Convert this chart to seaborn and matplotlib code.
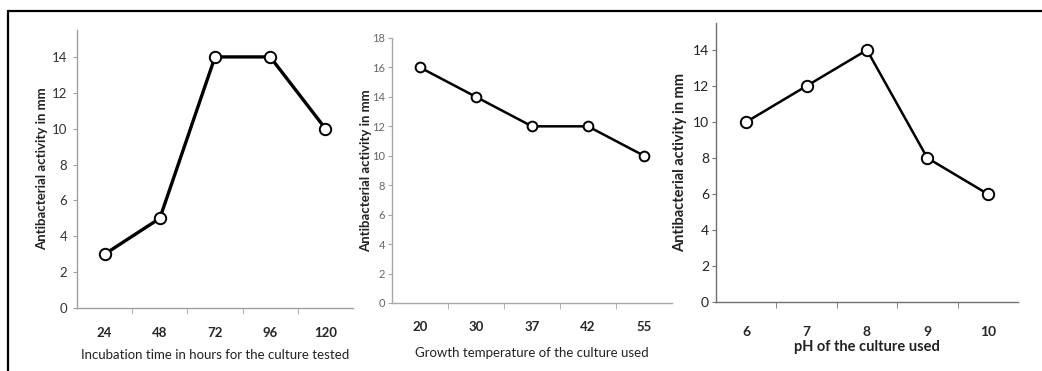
import numpy as np
import pandas as pd
import matplotlib
matplotlib.use('Agg')
import matplotlib.pyplot as plt
from matplotlib.lines import Line2D
from matplotlib.ticker import FixedLocator
import seaborn as sns

# Data
time_labels = ['24', '48', '72', '96', '120']
time_activity = [3, 5, 14, 14, 10]

temp_labels = ['20', '30', '37', '42', '55']
temp_activity = [16, 14, 12, 12, 10]

ph_labels = ['6', '7', '8', '9', '10']
ph_activity = [10, 12, 14, 8, 6]

sns.set_style('white')
plt.rcParams['font.family'] = ['Lato', 'DejaVu Sans']

fig = plt.figure(figsize=(10.42, 3.71), dpi=100)

# panel rectangles [left, bottom, width, height] in figure fractions
ax1 = fig.add_axes([0.0739, 0.1698, 0.2649, 0.7493])
ax2 = fig.add_axes([0.3762, 0.1833, 0.2687, 0.7143])
ax3 = fig.add_axes([0.6871, 0.1860, 0.2898, 0.7520])

panels = [
    (ax1, time_labels, time_activity, 'Incubation time in hours for the culture tested', 15.5, 8.2, 2.4, '#a0a0a0'),
    (ax2, temp_labels, temp_activity, 'Growth temperature of the culture used', 18, 7.0, 1.8, '#a8a8a8'),
    (ax3, ph_labels, ph_activity, 'pH of the culture used', 15.5, 8.2, 1.8, '#707070'),
]

for ax, labels, vals, xlabel, ytop, ms, lw, axcol in panels:
    df = pd.DataFrame({'x': labels, 'y': vals})
    sns.lineplot(data=df, x='x', y='y', ax=ax, color='black', lw=lw,
                 marker='o', markersize=ms, markerfacecolor='white',
                 markeredgecolor='black', markeredgewidth=1.4, sort=False)
    ax.set_xlim(-0.5, len(labels) - 0.5)
    ax.set_ylim(0, ytop)
    for s in ['top', 'right']:
        ax.spines[s].set_visible(False)
    for s in ['left', 'bottom']:
        ax.spines[s].set_color(axcol)
        ax.spines[s].set_linewidth(1.0)
    ax.set_xlabel(xlabel, fontsize=9.5, color='#222222')
    ax.set_ylabel('Antibacterial activity in mm', fontsize=9.5, fontweight='bold', color='#222222')
    ax.xaxis.set_minor_locator(FixedLocator(np.arange(0.5, len(labels) - 0.5, 1)))
    ax.tick_params(axis='x', which='major', length=0)
    ax.tick_params(axis='x', which='minor', length=4, direction='out', color=axcol, bottom=True)
    ax.tick_params(axis='y', length=3, direction='out', color=axcol, left=True)
    ax.grid(False)

# panel 1 ticks
ax1.set_yticks(range(0, 15, 2))
ax1.tick_params(axis='y', labelsize=9.5, labelcolor='#333333', pad=4)
ax1.tick_params(axis='x', which='major', labelsize=9.5, pad=14)
for t in ax1.get_xticklabels():
    t.set_fontweight('bold')
ax1.xaxis.labelpad = 7
ax1.yaxis.labelpad = 3

# panel 2 ticks
ax2.set_yticks(range(0, 19, 2))
ax2.tick_params(axis='y', labelsize=8, labelcolor='#666666', pad=2)
ax2.tick_params(axis='x', which='major', labelsize=9.5, pad=13)
for t in ax2.get_xticklabels():
    t.set_fontweight('bold')
ax2.xaxis.labelpad = 10
ax2.yaxis.labelpad = 0

# panel 3 ticks
ax3.set_yticks(range(0, 15, 2))
ax3.tick_params(axis='y', labelsize=10, labelcolor='#222222', pad=2)
ax3.tick_params(axis='x', which='major', labelsize=10, pad=17)
for t in ax3.get_xticklabels():
    t.set_fontweight('bold')
ax3.set_xlabel('pH of the culture used', fontsize=10.5, fontweight='bold', color='#222222')
ax3.set_ylabel('Antibacterial activity in mm', fontsize=10.5, fontweight='bold', color='#222222')
ax3.xaxis.labelpad = 2
ax3.yaxis.labelpad = 4

# outer frame (top and left edges only)
ytop = 1 - 11 / 371
xl = 8 / 1042
fig.add_artist(Line2D([xl, 1], [ytop, ytop], color='black', lw=1.6, transform=fig.transFigure))
fig.add_artist(Line2D([xl, xl], [0, ytop], color='black', lw=1.6, transform=fig.transFigure))

fig.savefig('out.png', dpi=100)
